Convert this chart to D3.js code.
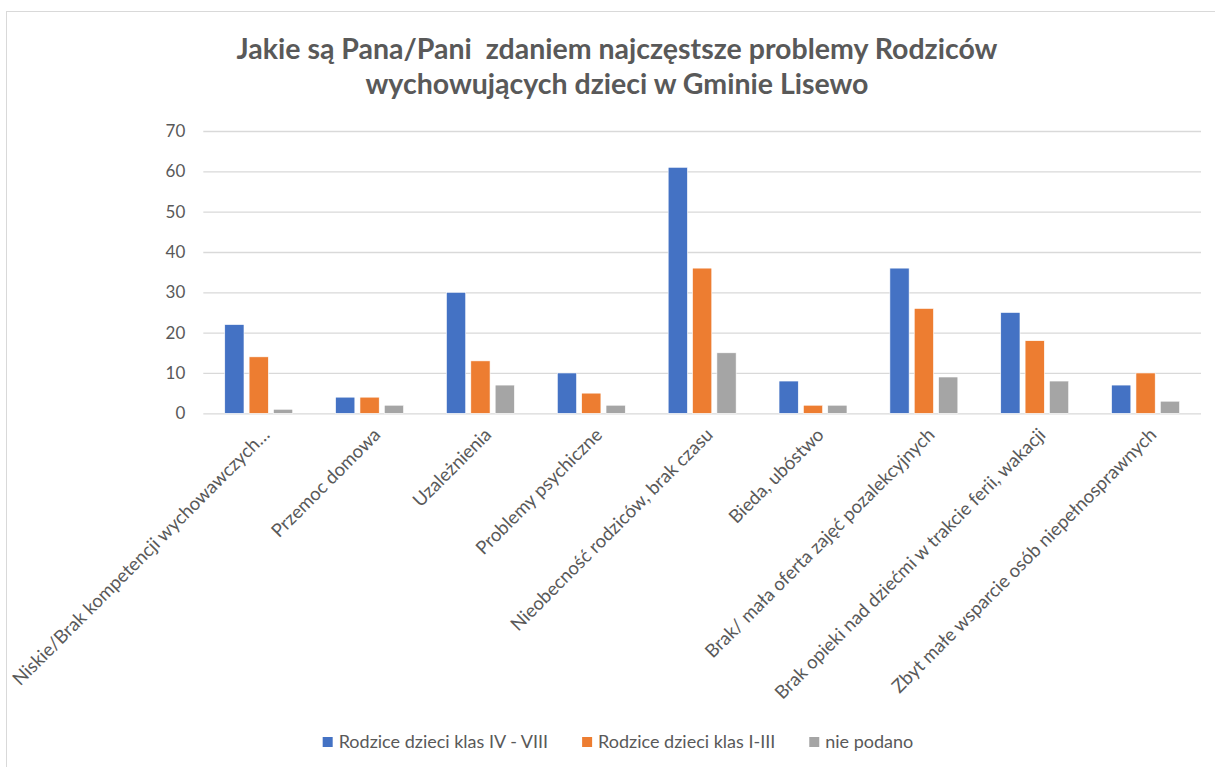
<!DOCTYPE html>
<html>
<head>
<meta charset="utf-8">
<script src="https://cdn.jsdelivr.net/npm/d3@7"></script>
<style>
  body { margin: 0; background: #fff; }
  svg { display: block; font-family: Lato, "Open Sans", sans-serif; }
</style>
</head>
<body>
<svg></svg>
<script>
// data
var categories = [
  "Niskie/Brak kompetencji wychowawczych…",
  "Przemoc domowa",
  "Uzależnienia",
  "Problemy psychiczne",
  "Nieobecność rodziców, brak czasu",
  "Bieda, ubóstwo",
  "Brak/ mała oferta zajęć pozalekcyjnych",
  "Brak opieki nad dziećmi w trakcie ferii, wakacji",
  "Zbyt małe wsparcie osób niepełnosprawnych"
];
var seriesNames = ["Rodzice dzieci klas IV - VIII", "Rodzice dzieci klas I-III", "nie podano"];
var klasyIVVIII = [22, 4, 30, 10, 61, 8, 36, 25, 7];
var klasyIIII   = [14, 4, 13, 5, 36, 2, 26, 18, 10];
var niePodano   = [1, 2, 7, 2, 15, 2, 9, 8, 3];
var yTicks = [0, 10, 20, 30, 40, 50, 60, 70];
var titleLines = ["Jakie są Pana/Pani  zdaniem najczęstsze problemy Rodziców",
                  "wychowujących dzieci w Gminie Lisewo"];
var colors = ["#4472C4", "#ED7D31", "#A5A5A5"];

var series = [klasyIVVIII, klasyIIII, niePodano];

var svg = d3.select('svg')
            .attr('width', 1215)
            .attr('height', 767);

// chart area border
svg.append('rect')
   .attr('x', 6.5).attr('y', 11.5)
   .attr('width', 1300).attr('height', 900)
   .attr('fill', '#fff')
   .attr('stroke', '#d9d9d9')
   .attr('stroke-width', 1);

var plotLeft = 203.3, plotRight = 1201, plotTop = 131, plotBottom = 413.3;

var x0 = d3.scaleBand()
           .domain(categories)
           .range([plotLeft, plotRight])
           .paddingInner(0.387)
           .paddingOuter(0.1935);
var x1 = d3.scaleBand()
           .domain([0, 1, 2])
           .range([0, x0.bandwidth()])
           .paddingInner(0.21);
var y = d3.scaleLinear()
          .domain([0, 70])
          .range([plotBottom, plotTop]);

// title
svg.append('text')
   .attr('text-anchor', 'middle')
   .attr('fill', '#595959')
   .attr('font-weight', 'bold')
   .attr('font-size', '28.5px')
   .style('white-space', 'pre')
   .selectAll('tspan')
   .data(titleLines)
   .enter()
   .append('tspan')
   .attr('x', 617)
   .attr('y', (d, i) => 59 + i * 35)
   .text(d => d);

// y axis + gridlines
var yAxis = svg.append('g')
   .attr('transform', 'translate(' + plotLeft + ',0)')
   .call(d3.axisLeft(y).tickValues(yTicks).tickSize(-(plotRight - plotLeft)).tickPadding(18));
yAxis.select('.domain').remove();
yAxis.selectAll('.tick line')
     .attr('stroke', '#d9d9d9')
     .attr('stroke-width', 1.3);
yAxis.selectAll('.tick text')
     .attr('fill', '#595959')
     .attr('font-size', '17px')
     .attr('font-family', 'Lato, "Open Sans", sans-serif');

// bars
var groups = svg.selectAll('g.cat')
                .data(categories)
                .enter()
                .append('g')
                .attr('class', 'cat')
                .attr('transform', d => 'translate(' + x0(d) + ',0)');
groups.selectAll('rect')
      .data((d, i) => series.map((s, k) => ({k: k, v: s[i]})))
      .enter()
      .append('rect')
      .attr('x', d => x1(d.k))
      .attr('y', d => y(d.v))
      .attr('width', x1.bandwidth())
      .attr('height', d => y(0) - y(d.v))
      .attr('fill', d => colors[d.k])
      .attr('stroke', '#fff')
      .attr('stroke-width', 0.6);

// category labels, rotated
svg.selectAll('text.cat')
   .data(categories)
   .enter()
   .append('text')
   .attr('class', 'cat')
   .attr('transform', d => 'translate(' + (x0(d) + x0.bandwidth() / 2 + 12) + ',436) rotate(-45)')
   .attr('text-anchor', 'end')
   .attr('fill', '#595959')
   .attr('font-size', '18.5px')
   .text(d => d);

// legend
var legend = svg.append('g').attr('transform', 'translate(0,748)');
var items = legend.selectAll('g')
                  .data(seriesNames)
                  .enter()
                  .append('g');
items.append('rect')
     .attr('y', -11)
     .attr('width', 10)
     .attr('height', 10)
     .attr('fill', (d, i) => colors[i]);
items.append('text')
     .attr('x', 16)
     .attr('fill', '#595959')
     .attr('font-size', '18px')
     .text(d => d);
var widths = [];
items.each(function(){ widths.push(this.getBBox().width); });
var gap = 34;
var total = d3.sum(widths) + gap * (widths.length - 1);
var pos = 618 - total / 2;
items.attr('transform', function(d, i){
  var p = pos;
  pos += widths[i] + gap;
  return 'translate(' + p + ',0)';
});
</script>
</body>
</html>
